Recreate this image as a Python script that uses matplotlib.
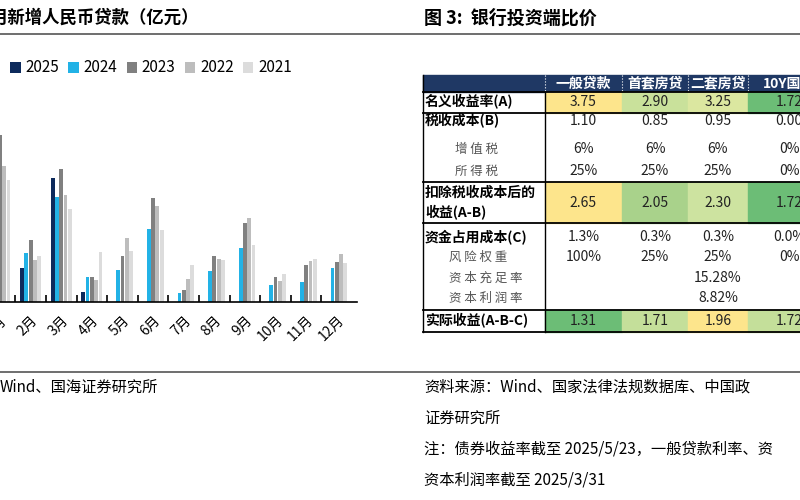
import matplotlib

matplotlib.use("Agg")
import matplotlib.pyplot as plt
import numpy as np
from matplotlib.patches import Rectangle

plt.rcParams["font.family"] = ["Noto Sans CJK SC", "DejaVu Sans"]

# left chart: monthly new RMB loans (100 million yuan)
months = ["1月", "2月", "3月", "4月", "5月", "6月", "7月", "8月", "9月", "10月", "11月", "12月"]
years = ["2025", "2024", "2023", "2022", "2021"]
loans_2025 = [51300, 10100, 36400, 2800, 0, 0, 0, 0, 0, 0, 0, 0]
loans_2024 = [49200, 14500, 30900, 7300, 9500, 21300, 2600, 9000, 15900, 5000, 5800, 9900]
loans_2023 = [49000, 18100, 38900, 7200, 13600, 30500, 3500, 13600, 23100, 7400, 10900, 11700]
loans_2022 = [39800, 12300, 31300, 6500, 18900, 28100, 6800, 12500, 24700, 6200, 12100, 14000]
loans_2021 = [35800, 13600, 27300, 14700, 15000, 21200, 10800, 12200, 16600, 8300, 12700, 11300]
year_colors = ["#0d2a5c", "#22b2e6", "#808080", "#bdbdbd", "#dcdcdc"]

# right table: bank asset yield comparison
col_labels = ["一般贷款", "首套房贷", "二套房贷", "10Y国债"]
row_labels = ["名义收益率(A)", "税收成本(B)", "增值税", "所得税", "扣除税收成本后的\n收益(A-B)",
              "资金占用成本(C)", "风险权重", "资本充足率", "资本利润率", "实际收益(A-B-C)"]
cells = [
    ["3.75", "2.90", "3.25", "1.72"],
    ["1.10", "0.85", "0.95", "0.00"],
    ["6%", "6%", "6%", "0%"],
    ["25%", "25%", "25%", "0%"],
    ["2.65", "2.05", "2.30", "1.72"],
    ["1.3%", "0.3%", "0.3%", "0.0%"],
    ["100%", "25%", "25%", "0%"],
    ["", "", "15.28%", ""],
    ["", "", "8.82%", ""],
    ["1.31", "1.71", "1.96", "1.72"],
]
cell_fill = {
    0: ["#fde58c", "#c9e19b", "#dbe7a0", "#6cbd76"],
    4: ["#fde58c", "#a9d28b", "#cde3a0", "#6cbd76"],
    9: ["#6cbd76", "#c4df9a", "#fde58c", "#c4df9a"],
}
sub_rows = {2, 3, 6, 7, 8}

fig = plt.figure(figsize=(8, 5), dpi=100)
ov = fig.add_axes([0, 0, 1, 1])
ov.set_xlim(0, 800)
ov.set_ylim(500, 0)
ov.axis("off")

# headers, rules, footers
ov.text(-9, 18, "月新增人民币贷款（亿元）", fontsize=12.5, fontweight="bold", va="center")
ov.text(424, 18, "图 3:  银行投资端比价", fontsize=13, fontweight="bold", va="center")
ov.plot([0, 800], [34, 34], color="#555555", lw=1.2)
ov.plot([0, 800], [372, 372], color="#555555", lw=1.2)
foot = dict(fontsize=11, va="center", clip_on=True)
ov.text(0, 387, "Wind、国海证券研究所", **foot)
ov.text(424, 387, "资料来源：Wind、国家法律法规数据库、中国政", **foot)
ov.text(424, 418, "证券研究所", **foot)
ov.text(424, 449, "注：债券收益率截至 2025/5/23，一般贷款利率、资", **foot)
ov.text(424, 480, "资本利润率截至 2025/3/31", **foot)

# table
col_x = [423, 545, 622, 688, 748, 830]
row_top = [92, 113, 137, 158, 182, 223, 247, 268, 288, 310]
row_bot = [113, 130, 158, 182, 223, 247, 268, 288, 310, 332]
row_mid = [102, 121, 149, 171, 203, 237, 257, 278, 298, 321]
ov.add_patch(Rectangle((col_x[0], 75), col_x[-1] - col_x[0], 17, color="#1f3864", zorder=1))
for j, lab in enumerate(col_labels):
    xc = (col_x[j + 1] + col_x[j + 2]) / 2
    ov.text(xc, 83.5, lab, color="white", fontsize=10, fontweight="bold",
            ha="center", va="center", zorder=3, clip_on=True)
    ov.plot([col_x[j + 1]] * 2, [75, 92], color="white", lw=0.8, ls=":", zorder=2)
for i, lab in enumerate(row_labels):
    y0, y1, yc = row_top[i], row_bot[i], row_mid[i]
    for j, val in enumerate(cells[i]):
        if i in cell_fill:
            ov.add_patch(Rectangle((col_x[j + 1], y0), col_x[j + 2] - col_x[j + 1], y1 - y0,
                                   color=cell_fill[i][j], zorder=1))
        ov.text((col_x[j + 1] + col_x[j + 2]) / 2, yc, val, fontsize=10, ha="center", va="center",
                color="#222222", zorder=3, clip_on=True)
    if i in sub_rows:
        indent = 32 if len(lab) == 3 else 26
        ov.text(col_x[0] + indent, yc, " ".join(lab), fontsize=9, color="#555555", va="center")
    else:
        ov.text(col_x[0] + 2, yc, lab, fontsize=10, fontweight="bold", va="center", linespacing=1.5)
for y in [92, 113, 182, 223, 310, 332]:
    ov.plot([col_x[0], 800], [y, y], color="black", lw=1.3, zorder=4)
ov.plot([col_x[0]] * 2, [75, 332], color="black", lw=1.0, zorder=4)
ov.plot([col_x[1]] * 2, [92, 332], color="black", lw=1.0, zorder=4)

# bar chart
ax = fig.add_axes([0, (500 - 302) / 500, 357 / 800, 212 / 500])
x = np.arange(len(months))
series = [loans_2025, loans_2024, loans_2023, loans_2022, loans_2021]
width = 0.125
for k, (vals, col, yr) in enumerate(zip(series, year_colors, years)):
    ax.bar(x + (k - 2) * 0.14, vals, width, color=col, label=yr)
ax.set_xlim(0.40, 11.66)
ax.set_ylim(0, 62200)
ax.set_yticks([])
for s in ["top", "right", "left"]:
    ax.spines[s].set_visible(False)
ax.spines["bottom"].set_linewidth(1.2)
ax.set_xticks(x)
ax.set_xticklabels(months, rotation=45, fontsize=10, ha="right", rotation_mode="anchor")
ax.tick_params(axis="x", length=0, pad=8)
ax.set_xticks(x[:-1] + 0.5, minor=True)
ax.tick_params(axis="x", which="minor", direction="in", length=5, width=1.2)
fig.legend(*ax.get_legend_handles_labels(), loc="center left", bbox_to_anchor=(0.005, 1 - 68 / 500),
           ncol=5, frameon=False, fontsize=11, handlelength=0.7, handleheight=0.7,
           handletextpad=0.3, columnspacing=0.6, borderaxespad=0)

fig.savefig("out.png")
